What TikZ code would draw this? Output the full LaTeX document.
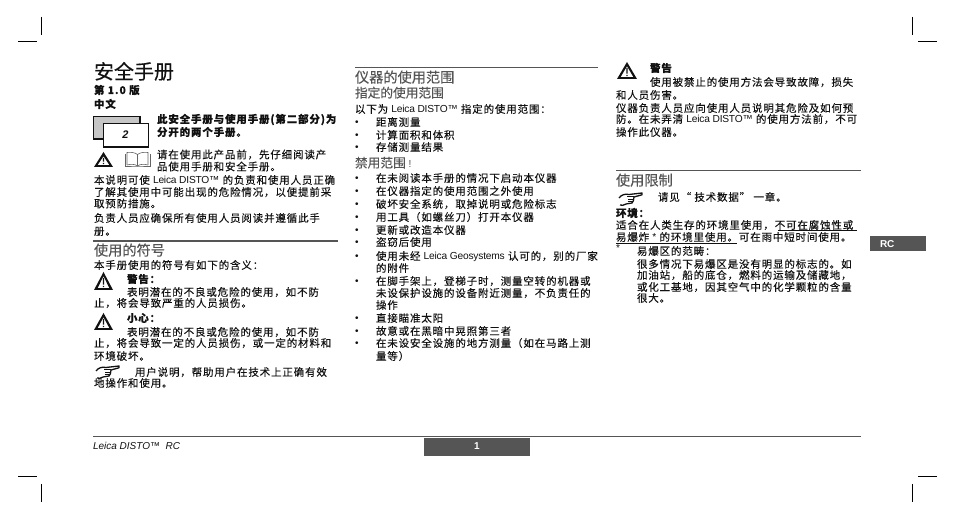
\documentclass[tikz,border=0pt]{standalone}
\usepackage{fontspec}
\setmainfont[LetterSpace=8,FakeBold=0.12]{Noto Sans CJK SC}
\newfontfamily\tight[FakeBold=0.28]{Noto Sans CJK SC}
\newfontfamily\tightb[FakeBold=0.4]{Noto Sans CJK SC}
\newfontfamily\latf{Liberation Sans}
\newcommand{\lat}[1]{{\latf\fontsize{10.2}{11}\selectfont\addfontfeature{LetterSpace=-2}#1}}
\definecolor{ink}{HTML}{111111}
\definecolor{hd}{HTML}{555555}
\definecolor{tabg}{HTML}{555555}
\newcounter{tn}
% every text line is a named node, baseline-anchored
\newcommand{\T}[4][body]{\stepcounter{tn}\node[#1] (t\thetn) at (#2,#3) {#4};}
\newcommand{\hand}[2]{\begin{scope}[shift={(#1,#2)}]
 \draw[icon,line width=1.3pt,line join=round] (0,4) .. controls (2,1) and (6,-0.5) .. (10,0.5) -- (23,-1) -- (23,0.8) -- (15,3) .. controls (15,6) and (14,8) .. (13,9) -- (7,10) .. controls (5,11.5) and (3,11.5) .. (1,11);
 \draw[icon,line width=1pt] (8,3) -- (15,3) (9,5.5) -- (14.5,5.5) (8.5,8) -- (13.5,8);
\end{scope}}
\newcommand{\warn}[4]{\fill[ink,even odd rule] (#1,#4) -- (#3,#4) -- ({(#1+#3)/2},#2) -- cycle
 (#1+3.6,#4-1.9) -- (#3-3.6,#4-1.9) -- ({(#1+#3)/2},#2+4.2) -- cycle;
 \fill[ink] ({(#1+#3)/2-0.7},#2+6) rectangle ({(#1+#3)/2+0.7},#4-5.4) ({(#1+#3)/2-0.7},#4-4.2) rectangle ({(#1+#3)/2+0.7},#4-2.8);}
\tikzset{
 base/.style={anchor=base west,inner sep=0pt,outer sep=0pt,text=ink},
 body/.style={base,font=\fontsize{10.5}{12}\selectfont},
 bold/.style={base,font=\fontsize{10.5}{12}\selectfont\bfseries},
 head/.style={base,text=hd,font=\tight\fontsize{14.2}{16}\selectfont},
 subhead/.style={base,text=hd,font=\tight\fontsize{12.7}{14}\selectfont},
 dot/.style={base,font=\latf\fontsize{10}{12}\selectfont},
 rulethin/.style={draw=hd,line width=1pt},
 rulethick/.style={draw=hd,line width=2pt},
 crop/.style={draw=black,line width=1pt},
 icon/.style={draw=ink,fill=white},
 under/.style={draw=ink,line width=.9pt},
 tab/.style={fill=tabg,draw=none}
}
\begin{document}
\begin{tikzpicture}[x=1pt,y=-1pt]
\useasboundingbox (0,0) rectangle (954,518);
\fill[white] (0,0) rectangle (954,518);
% crop marks
\draw[crop] (41.5,17) -- (41.5,35) (18,41.5) -- (37,41.5);
\draw[crop] (912.5,17) -- (912.5,35) (918,41.5) -- (937,41.5);
\draw[crop] (41.5,484) -- (41.5,502) (18,476.5) -- (37,476.5);
\draw[crop] (912.5,484) -- (912.5,502) (918,476.5) -- (937,476.5);
% rules
\draw[rulethick] (93,241.5) -- (338,241.5);
\draw[rulethin] (355,67.5) -- (598,67.5);
\draw[rulethin] (616,170.5) -- (861,170.5);
\draw[rulethin] (93,436.5) -- (861,436.5);
% tabs
\fill[tab] (424,438) rectangle (530,456);
\fill[tab] (870,236) rectangle (926,251);
% left column
\node[base,font=\tightb\fontsize{20}{22}\selectfont] (title) at (94,79) {安全手册};
\T[bold]{94}{94}{第 1.0 版}
\T[bold]{94}{108}{中文}
\fill[gray!45] (93,116) rectangle (140,139);
\draw[ink,line width=.7pt] (93,139) -- (93,116) -- (140,116);
\draw[ink,line width=1.4pt] (140,116) -- (140,139) -- (93,139);
\draw[ink,fill=white,line width=.8pt] (103,123) rectangle (148,147);
\draw[ink,line width=1.6pt] (103,147) -- (148,147);
\node[base,font=\latf\fontsize{11}{12}\selectfont\bfseries\itshape,anchor=center] (two) at (125.5,135) {2};
\T[bold]{157}{123}{此安全手册与使用手册(第二部分)为}
\T[bold]{157}{136}{分开的两个手册。}
\warn{94}{152}{113}{167}
\begin{scope}[draw=ink!65,line width=.6pt]
\draw (125,154) -- (125,166) -- (137,166) -- (150,166) -- (150,154);
\draw (127,165) -- (127,152.5) .. controls (131,152) and (135,152.5) .. (137.5,154.5) .. controls (140,152.5) and (144,152) .. (148,152.5) -- (148,165);
\draw (127,165) .. controls (131,164) and (135,164) .. (137.5,166) .. controls (140,164) and (144,164) .. (148,165);
\draw (137.5,154.5) -- (137.5,166);
\end{scope}
\T{157}{158.5}{请在使用此产品前，先仔细阅读产}
\T{157}{170.5}{品使用手册和安全手册。}
\T{94}{184}{本说明可使 \lat{Leica DISTO™} 的负责和使用人员正确}
\T{94}{196}{了解其使用中可能出现的危险情况，以便提前采}
\T{94}{207.5}{取预防措施。}
\T{94}{222}{负责人员应确保所有使用人员阅读并遵循此手}
\T{94}{235}{册。}
\T[head]{94}{255.5}{使用的符号}
\T{94}{269}{本手册使用的符号有如下的含义：}
\warn{94}{272}{113}{290}
\T[bold]{127}{283}{警告：}
\T{127}{296}{表明潜在的不良或危险的使用，如不防}
\T{94}{307}{止，将会导致严重的人员损伤。}
\warn{94}{313}{113}{330}
\T[bold]{127}{322}{小心：}
\T{127}{336}{表明潜在的不良或危险的使用，如不防}
\T{94}{347}{止，将会导致一定的人员损伤，或一定的材料和}
\T{94}{360}{环境破坏。}
\hand{96}{367}
\T{135}{376}{用户说明，帮助用户在技术上正确有效}
\T{94}{387}{地操作和使用。}
% middle column
\T[head]{355}{82.5}{仪器的使用范围}
\T[subhead]{355}{97.5}{指定的使用范围}
\T{355}{113}{以下为 \lat{Leica DISTO™} 指定的使用范围：}
\T[dot]{355}{126}{•}\T{376}{126}{距离测量}
\T[dot]{355}{139}{•}\T{376}{139}{计算面积和体积}
\T[dot]{355}{151}{•}\T{376}{151}{存储测量结果}
\T[subhead]{355}{167.5}{禁用范围 \lat{!}}
\T[dot]{355}{182}{•}\T{376}{182}{在未阅读本手册的情况下启动本仪器}
\T[dot]{355}{195}{•}\T{376}{195}{在仪器指定的使用范围之外使用}
\T[dot]{355}{208}{•}\T{376}{208}{破坏安全系统，取掉说明或危险标志}
\T[dot]{355}{221}{•}\T{376}{221}{用工具（如螺丝刀）打开本仪器}
\T[dot]{355}{234}{•}\T{376}{234}{更新或改造本仪器}
\T[dot]{355}{246}{•}\T{376}{246}{盗窃后使用}
\T[dot]{355}{260}{•}\T{376}{260}{使用未经 \lat{Leica Geosystems} 认可的，别的厂家}
\T{376}{272}{的附件}
\T[dot]{355}{285}{•}\T{376}{285}{在脚手架上，登梯子时，测量空转的机器或}
\T{376}{297}{未设保护设施的设备附近测量，不负责任的}
\T{376}{309}{操作}
\T[dot]{355}{322}{•}\T{376}{322}{直接瞄准太阳}
\T[dot]{355}{335}{•}\T{376}{335}{故意或在黑暗中晃照第三者}
\T[dot]{355}{347}{•}\T{376}{347}{在未设安全设施的地方测量（如在马路上测}
\T{376}{360}{量等）}
% right column
\warn{617}{62}{637}{79}
\T[bold]{650}{72}{警告}
\T{650}{86}{使用被禁止的使用方法会导致故障，损失}
\T{616}{99}{和人员伤害。}
\T{616}{112}{仪器负责人员应向使用人员说明其危险及如何预}
\T{616}{123}{防。在未弄清 \lat{Leica DISTO™} 的使用方法前，不可}
\T{616}{136}{操作此仪器。}
\T[head]{616}{185.5}{使用限制}
\hand{619}{194}
\T{658}{201}{请见“ 技术数据” 一章。}
\T[bold]{616}{217}{环境：}
\T{616}{229}{适合在人类生存的环境里使用，不可在腐蚀性或}
\T{616}{241}{易爆炸 \lat{*} 的环境里使用。可在雨中短时间使用。}
\draw[under] (778,230.5) -- (857,230.5);
\draw[under] (616,243.5) -- (737,243.5);
\T[dot]{616}{252}{*}
\T{637}{255}{易爆区的范畴：}
\T{637}{268}{很多情况下易爆区是没有明显的标志的。如}
\T{637}{279}{加油站，船的底仓，燃料的运输及储藏地，}
\T{637}{291}{或化工基地，因其空气中的化学颗粒的含量}
\T{637}{302}{很大。}
% tab labels and footer
\node[base,text=white,font=\latf\fontsize{10}{12}\selectfont\bfseries] (rc) at (880,247.5) {RC};
\node[base,text=white,font=\latf\fontsize{10}{12}\selectfont\bfseries,anchor=base] (pg) at (477,450) {1};
\node[base,font=\latf\fontsize{10}{12}\selectfont\itshape] (foot) at (93,449.5) {Leica DISTO™ \ RC};
\end{tikzpicture}
\end{document}
